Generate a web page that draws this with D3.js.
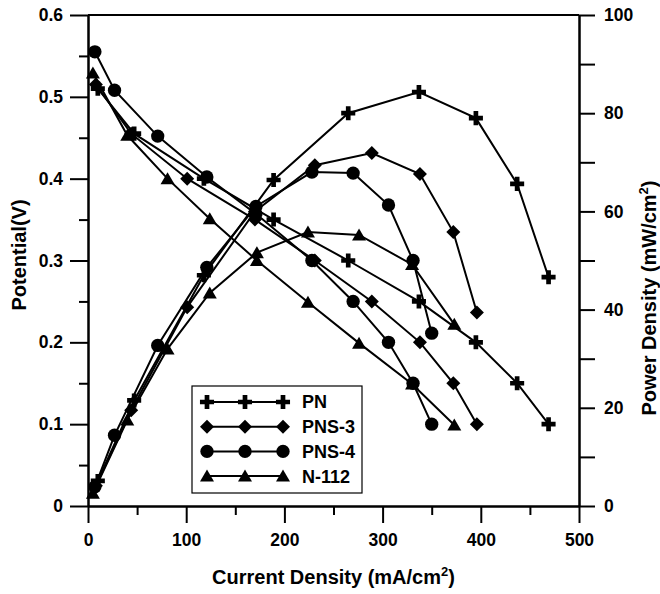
<!DOCTYPE html>
<html>
<head>
<meta charset="utf-8">
<script src="https://cdn.jsdelivr.net/npm/d3@7"></script>
<style>
  body { margin: 0; background: #fff; }
  svg { display: block; font-family: 'Liberation Sans', Arial, sans-serif; font-weight: bold; }
</style>
</head>
<body>
<svg id="chart" width="660" height="594"></svg>
<script>
// values
const seriesNames = ['PN', 'PNS-3', 'PNS-4', 'N-112']

const currentPN = [10, 47, 118, 189, 265, 337, 395, 437, 469]
const potentialPN = [0.51, 0.455, 0.40, 0.35, 0.30, 0.25, 0.20, 0.15, 0.10]
const powerPN = [5.1, 21.5, 47, 66.4, 80, 84.3, 79, 65.6, 46.6]

const currentPNS3 = [8, 44, 101, 170, 231, 289, 338, 372, 396]
const potentialPNS3 = [0.515, 0.455, 0.40, 0.35, 0.30, 0.25, 0.20, 0.15, 0.10]
const powerPNS3 = [4.1, 19.5, 40.5, 60, 69.4, 71.9, 67.6, 55.8, 39.4]

const currentPNS4 = [7, 27, 71, 121, 171, 228, 270, 306, 331, 350]
const potentialPNS4 = [0.555, 0.508, 0.452, 0.402, 0.357, 0.30, 0.25, 0.20, 0.15, 0.10]
const powerPNS4 = [3.9, 14.4, 32.7, 48.6, 61, 68, 67.8, 61.3, 50, 35.2]

const currentN112 = [5, 40, 81, 124, 172, 224, 276, 330, 373]
const potentialN112 = [0.529, 0.453, 0.40, 0.351, 0.30, 0.249, 0.199, 0.149, 0.099]
const powerN112 = [2.6, 17.5, 32, 43.4, 51.6, 55.8, 55.2, 49.2, 37]

const xTicks = [0, 100, 200, 300, 400, 500]
const yLeftTicks = [0, 0.1, 0.2, 0.3, 0.4, 0.5, 0.6]
const yRightTicks = [0, 20, 40, 60, 80, 100]

const series = [
    { name: seriesNames[0], marker: 'cross', current: currentPN, potential: potentialPN, power: powerPN },
    { name: seriesNames[1], marker: 'diamond', current: currentPNS3, potential: potentialPNS3, power: powerPNS3 },
    { name: seriesNames[2], marker: 'circle', current: currentPNS4, potential: potentialPNS4, power: powerPNS4 },
    { name: seriesNames[3], marker: 'triangle', current: currentN112, potential: potentialN112, power: powerN112 }
]

const plotLeft = 88, plotRight = 579, plotTop = 15, plotBottom = 506

const x = d3.scaleLinear().domain([0, 500]).range([plotLeft, plotRight])
const yL = d3.scaleLinear().domain([0, 0.6]).range([plotBottom, plotTop])
const yR = d3.scaleLinear().domain([0, 100]).range([plotBottom, plotTop])

const svg = d3.select('#chart')

function markerPath (type) {
    if (type === 'cross') return d3.symbol().type(d3.symbolCross).size(110)()
    if (type === 'diamond') return 'M0,-7L7,0L0,7L-7,0Z'
    if (type === 'circle') return d3.symbol().type(d3.symbolCircle).size(140)()
    return 'M0,-6.5L7,5.5L-7,5.5Z'
}

function styleAxis (g) {
    g.select('.domain').attr('stroke', '#000').attr('stroke-width', 2)
    g.selectAll('.tick line').attr('stroke', '#000').attr('stroke-width', 2)
    g.selectAll('.tick text').attr('fill', '#000').attr('font-size', 17.5).attr('font-weight', 'bold')
}

// minor ticks first, major on top
svg.append('g')
    .attr('transform', `translate(0,${plotBottom})`)
    .call(d3.axisBottom(x).tickValues([50, 150, 250, 350, 450]).tickSize(9).tickSizeOuter(0).tickFormat(''))
    .call(styleAxis)
svg.append('g')
    .attr('transform', `translate(${plotLeft},0)`)
    .call(d3.axisLeft(yL).tickValues([0.05, 0.15, 0.25, 0.35, 0.45, 0.55]).tickSize(9).tickSizeOuter(0).tickFormat(''))
    .call(styleAxis)
svg.append('g')
    .attr('transform', `translate(${plotRight},0)`)
    .call(d3.axisRight(yR).tickValues([10, 30, 50, 70, 90]).tickSize(16).tickSizeOuter(0).tickFormat(''))
    .call(styleAxis)

svg.append('g')
    .attr('transform', `translate(0,${plotBottom})`)
    .call(d3.axisBottom(x).tickValues(xTicks).tickSize(17).tickSizeOuter(0).tickPadding(11).tickFormat(d3.format('d')))
    .call(styleAxis)
svg.append('g')
    .attr('transform', `translate(${plotLeft},0)`)
    .call(d3.axisLeft(yL).tickValues(yLeftTicks).tickSize(18).tickSizeOuter(0).tickPadding(7)
        .tickFormat(d => d === 0 ? '0' : d3.format('.1f')(d)))
    .call(styleAxis)
svg.append('g')
    .attr('transform', `translate(${plotRight},0)`)
    .call(d3.axisRight(yR).tickValues(yRightTicks).tickSize(16).tickSizeOuter(0).tickPadding(9).tickFormat(d3.format('d')))
    .call(styleAxis)

// top frame line
svg.append('line')
    .attr('x1', plotLeft).attr('x2', plotRight)
    .attr('y1', plotTop).attr('y2', plotTop)
    .attr('stroke', '#000').attr('stroke-width', 2)

// data
const plot = svg.append('g')
series.forEach(s => {
    const pts = s.current.map((c, i) => ({ c, v: s.potential[i], p: s.power[i] }))
    const lineV = d3.line().x(d => x(d.c)).y(d => yL(d.v))
    const lineP = d3.line().x(d => x(d.c)).y(d => yR(d.p))
    plot.append('path').attr('d', lineV(pts)).attr('fill', 'none').attr('stroke', '#000').attr('stroke-width', 2)
    plot.append('path').attr('d', lineP(pts)).attr('fill', 'none').attr('stroke', '#000').attr('stroke-width', 2)
    const path = markerPath(s.marker)
    plot.selectAll(null).data(pts).join('path')
        .attr('d', path)
        .attr('transform', d => `translate(${x(d.c)},${yL(d.v)})`)
        .attr('fill', '#000')
    plot.selectAll(null).data(pts).join('path')
        .attr('d', path)
        .attr('transform', d => `translate(${x(d.c)},${yR(d.p)})`)
        .attr('fill', '#000')
})

// legend
const legend = svg.append('g').attr('transform', 'translate(192,386)')
legend.append('rect')
    .attr('width', 170).attr('height', 107)
    .attr('fill', '#fff').attr('stroke', '#000').attr('stroke-width', 1.2)
series.forEach((s, i) => {
    const yy = 16 + i * 24.7
    legend.append('line')
        .attr('x1', 15).attr('x2', 91).attr('y1', yy).attr('y2', yy)
        .attr('stroke', '#000').attr('stroke-width', 2)
    ;[15, 53, 91].forEach(mx => {
        legend.append('path')
            .attr('d', markerPath(s.marker))
            .attr('transform', `translate(${mx},${yy})`)
            .attr('fill', '#000')
    })
    legend.append('text')
        .attr('x', 110).attr('y', yy).attr('dy', '0.36em')
        .attr('font-size', 18)
        .text(s.name)
})

// axis titles
const xTitle = svg.append('text')
    .attr('x', (plotLeft + plotRight) / 2).attr('y', 584)
    .attr('text-anchor', 'middle').attr('font-size', 20)
xTitle.append('tspan').text('Current Density (mA/cm')
xTitle.append('tspan').attr('font-size', 13).attr('dy', -8).text('2')
xTitle.append('tspan').attr('dy', 8).text(')')

svg.append('text')
    .attr('transform', 'translate(26,255) rotate(-90)')
    .attr('text-anchor', 'middle').attr('font-size', 20)
    .text('Potential(V)')

const rTitle = svg.append('text')
    .attr('transform', 'translate(656,298) rotate(-90)')
    .attr('text-anchor', 'middle').attr('font-size', 20)
rTitle.append('tspan').text('Power Density (mW/cm')
rTitle.append('tspan').attr('font-size', 13).attr('dy', -8).text('2')
rTitle.append('tspan').attr('dy', 8).text(')')
</script>
</body>
</html>
